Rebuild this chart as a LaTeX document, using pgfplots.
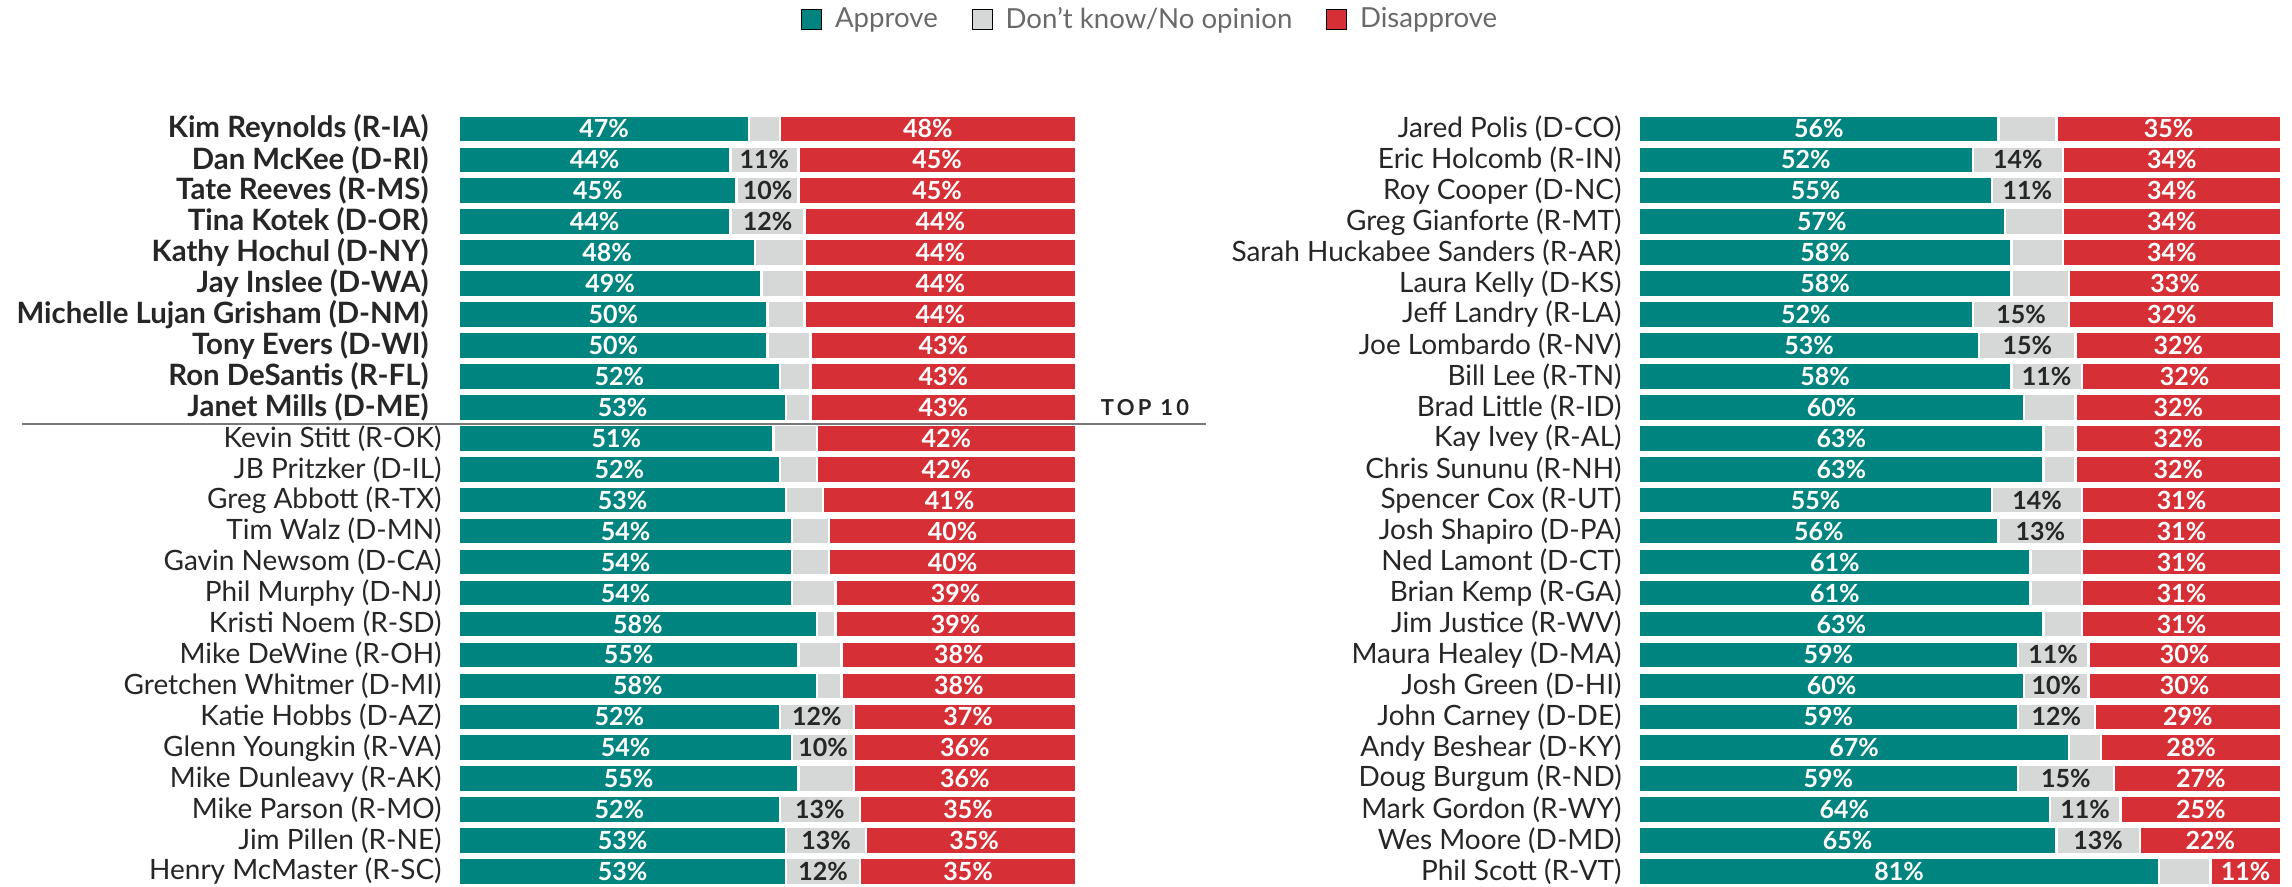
\documentclass[border=0pt]{standalone}
\usepackage{pgfplots}
\usepackage{pgfplotstable}
\pgfplotsset{compat=1.18}
\usepackage{fontspec}
\setmainfont{Lato}

\definecolor{appr}{RGB}{0,132,127}
\definecolor{dkgr}{RGB}{214,216,216}
\definecolor{disa}{RGB}{214,47,53}
\definecolor{txt}{RGB}{38,38,38}
\definecolor{legtxt}{RGB}{105,105,105}

% approve / don't know / disapprove, top to bottom
\pgfplotstableread{
idx ap dk dis
1 47 5 48
2 44 11 45
3 45 10 45
4 44 12 44
5 48 8 44
6 49 7 44
7 50 6 44
8 50 7 43
9 52 5 43
10 53 4 43
11 51 7 42
12 52 6 42
13 53 6 41
14 54 6 40
15 54 6 40
16 54 7 39
17 58 3 39
18 55 7 38
19 58 4 38
20 52 12 37
21 54 10 36
22 55 9 36
23 52 13 35
24 53 13 35
25 53 12 35
}\lefttab

\pgfplotstableread{
idx ap dk dis
1 56 9 35
2 52 14 34
3 55 11 34
4 57 9 34
5 58 8 34
6 58 9 33
7 52 15 32
8 53 15 32
9 58 11 32
10 60 8 32
11 63 5 32
12 63 5 32
13 55 14 31
14 56 13 31
15 61 8 31
16 61 8 31
17 63 6 31
18 59 11 30
19 60 10 30
20 59 12 29
21 67 5 28
22 59 15 27
23 64 11 25
24 65 13 22
25 81 8 11
}\righttab

\newcommand{\B}[1]{{\fontsize{14.7}{15}\selectfont\bfseries #1}\kern6.5pt}

\pgfplotsset{
  panel/.style={
    scale only axis, height=386.8pt,
    xmin=0, xmax=100, ymin=0.5, ymax=25.5, y dir=reverse,
    axis line style={draw=none}, major tick length=0pt,
    xtick=\empty, ytick={1,...,25},
    yticklabel style={font=\fontsize{14}{15}\selectfont, text=txt, inner sep=0pt, xshift=-8.5pt},
    clip=false,
  },
  seg/.style={xbar, bar width=0.87, bar shift=0pt, draw=white, line width=1.2pt, fill=#1},
  lab/.style={draw=none, mark=none, point meta=explicit,
    nodes near coords={\pgfmathprintnumber[assume math mode=true]{\pgfplotspointmeta}\%},
    every node near coord/.style={anchor=center, inner sep=0pt,
      font=\bfseries\fontsize{12.5}{14}\selectfont, text=#1}},
}

\newcommand{\panelplots}[1]{%
  \addplot[seg=disa] table[x expr={min(\thisrow{ap}+\thisrow{dk}+\thisrow{dis},100)}, y=idx] {#1};
  \addplot[seg=dkgr] table[x expr={\thisrow{ap}+\thisrow{dk}}, y=idx] {#1};
  \addplot[seg=appr] table[x=ap, y=idx] {#1};
  \addplot[lab=white] table[x expr={\thisrow{ap}/2}, y=idx, meta=ap] {#1};
  \addplot[lab=txt, restrict expr to domain={\thisrow{dk}}{10:200}]
    table[x expr={\thisrow{ap}+\thisrow{dk}/2}, y=idx, meta=dk] {#1};
  \addplot[lab=white] table[x expr={\thisrow{ap}+\thisrow{dk}+\thisrow{dis}/2}, y=idx, meta=dis] {#1};
}

\begin{document}
\begin{tikzpicture}
\useasboundingbox (0,0) rectangle (1146pt,443.5pt);

\begin{axis}[panel, width=308.5pt, at={(229.5pt,0pt)}, anchor=south west,
  yticklabels={\B{Kim Reynolds (R-IA)},\B{Dan McKee (D-RI)},\B{Tate Reeves (R-MS)},
    \B{Tina Kotek (D-OR)},\B{Kathy Hochul (D-NY)},\B{Jay Inslee (D-WA)},
    \B{Michelle Lujan Grisham (D-NM)},\B{Tony Evers (D-WI)},\B{Ron DeSantis (R-FL)},
    \B{Janet Mills (D-ME)},Kevin Stitt (R-OK),JB Pritzker (D-IL),Greg Abbott (R-TX),
    Tim Walz (D-MN),Gavin Newsom (D-CA),Phil Murphy (D-NJ),Kristi Noem (R-SD),
    Mike DeWine (R-OH),Gretchen Whitmer (D-MI),Katie Hobbs (D-AZ),Glenn Youngkin (R-VA),
    Mike Dunleavy (R-AK),Mike Parson (R-MO),Jim Pillen (R-NE),Henry McMaster (R-SC)},
  legend style={at={(axis description cs:1.122,1.122)}, anchor=center, draw=none, fill=none,
    legend columns=-1, font=\fontsize{13.8}{15}\selectfont, text=legtxt,
    /tikz/every even column/.append style={column sep=15pt}},
  legend image code/.code={\fill[#1] (0pt,-5pt) rectangle (10pt,5pt);},
]
\addlegendimage{fill=appr}\addlegendentry{\kern4.5pt Approve}
\addlegendimage{fill=dkgr}\addlegendentry{\kern4.5pt Don't know/No opinion}
\addlegendimage{fill=disa}\addlegendentry{\kern4.5pt Disapprove}
\panelplots{\lefttab}
\end{axis}

\begin{axis}[panel, width=321pt, at={(819.5pt,0pt)}, anchor=south west,
  yticklabels={Jared Polis (D-CO),Eric Holcomb (R-IN),Roy Cooper (D-NC),Greg Gianforte (R-MT),
    Sarah Huckabee Sanders (R-AR),Laura Kelly (D-KS),Jeff Landry (R-LA),Joe Lombardo (R-NV),
    Bill Lee (R-TN),Brad Little (R-ID),Kay Ivey (R-AL),Chris Sununu (R-NH),Spencer Cox (R-UT),
    Josh Shapiro (D-PA),Ned Lamont (D-CT),Brian Kemp (R-GA),Jim Justice (R-WV),
    Maura Healey (D-MA),Josh Green (D-HI),John Carney (D-DE),Andy Beshear (D-KY),
    Doug Burgum (R-ND),Mark Gordon (R-WY),Wes Moore (D-MD),Phil Scott (R-VT)},
]
\panelplots{\righttab}
\end{axis}

\draw[line width=1.1pt, color={rgb,255:red,120;green,120;blue,120}] (11pt,231.5pt) -- (603pt,231.5pt);
\node[font=\bfseries\fontsize{11}{13}\selectfont\addfontfeature{LetterSpace=15}, text=txt]
  at (572.5pt,239.5pt) {TOP 10};
\end{tikzpicture}
\end{document}
